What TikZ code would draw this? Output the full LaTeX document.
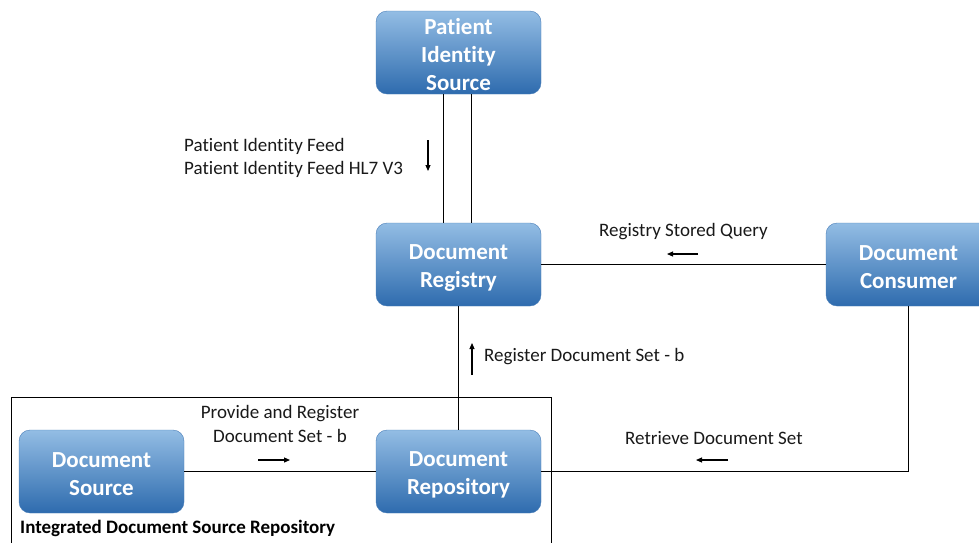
\documentclass[tikz,border=0pt]{standalone}
\usepackage{fontspec}
\setmainfont{Carlito}[Ligatures={NoCommon}]
\usetikzlibrary{arrows.meta}
\definecolor{boxtop}{HTML}{93BDE4}
\definecolor{boxbot}{HTML}{2E6BAE}
\definecolor{boxedge}{HTML}{4A7EB8}
\tikzset{
  actor/.style={rounded corners=11pt, minimum width=165pt, minimum height=83pt,
    top color=boxtop, bottom color=boxbot, draw=boxedge, line width=0.4pt, inner sep=0pt},
  actortext/.style={text=white, font=\fontsize{23}{28}\selectfont\bfseries, align=center, inner sep=0pt},
  link/.style={draw=black, line width=1pt},
  flow/.style={-{Triangle[length=6pt,width=5pt]}, line width=1.1pt},
  lbl/.style={font=\fontsize{19}{23.5}\selectfont, inner sep=0pt, text=black!90},
}
\begin{document}
\begin{tikzpicture}[x=1pt,y=-1pt]
\useasboundingbox (0,0) rectangle (979,542);
\clip (0,0) rectangle (979,542);
% outer boundary of the grouped actor
\draw[line width=1pt] (11,560) -- (11,397) -- (551,397) -- (551,560);
\node[anchor=west, font=\fontsize{19}{22}\selectfont\bfseries, inner sep=0pt] (grp) at (20,528) {Integrated Document Source Repository};
% actors
\node[actor] (pis) at (458.5,52.5) {};
\node[actor] (reg) at (458.5,264.5) {};
\node[actor] (con) at (908.5,264.5) {};
\node[actor] (src) at (101.5,471.5) {};
\node[actor] (rep) at (458.5,471.5) {};
\node[actortext] (pist) at ([yshift=-2pt]pis.center) {Patient\\Identity\\Source};
\node[actortext] (regt) at ([yshift=-3pt]reg.center) {Document\\Registry};
\node[actortext] (cont) at ([yshift=-3pt]con.center) {Document\\Consumer};
\node[actortext] (srct) at ([yshift=-3pt]src.center) {Document\\Source};
\node[actortext] (rept) at ([yshift=-3pt]rep.center) {Document\\Repository};
% connectors
\coordinate (corner) at (908,471);
\draw[link] (pis.south -| 443,0) -- (reg.north -| 443,0);
\draw[link] (pis.south -| 471,0) -- (reg.north -| 471,0);
\draw[link] (reg.east) -- (con.west);
\draw[link] (reg.south) -- (rep.north);
\draw[link] (src.east) -- (rep.west);
\draw[link] (rep.east |- corner) -- (corner) -- (con.south -| corner);
% transaction labels and direction arrows
\node[lbl, anchor=west] (pif) at (184,146) {Patient Identity Feed};
\node[lbl, anchor=west] (pif3) at (184,169) {Patient Identity Feed HL7 V3};
\coordinate (a1s) at (428,140); \coordinate (a1e) at (428,171);
\draw[flow] (a1s) -- (a1e);
\node[lbl, anchor=west] (rsq) at (599,232) {Registry Stored Query};
\coordinate (a2s) at (698,254); \coordinate (a2e) at (667,254);
\draw[flow] (a2s) -- (a2e);
\node[lbl, anchor=west] (rds) at (484,357) {Register Document Set - b};
\coordinate (a3s) at (472,375); \coordinate (a3e) at (472,343);
\draw[flow] (a3s) -- (a3e);
\node[lbl, align=center] (prd) at (280,424) {Provide and Register\\Document Set - b};
\coordinate (a4s) at (258,460); \coordinate (a4e) at (290,460);
\draw[flow] (a4s) -- (a4e);
\node[lbl, anchor=west] (ret) at (625,438) {Retrieve Document Set};
\coordinate (a5s) at (728,460); \coordinate (a5e) at (696,460);
\draw[flow] (a5s) -- (a5e);
\end{tikzpicture}
\end{document}
